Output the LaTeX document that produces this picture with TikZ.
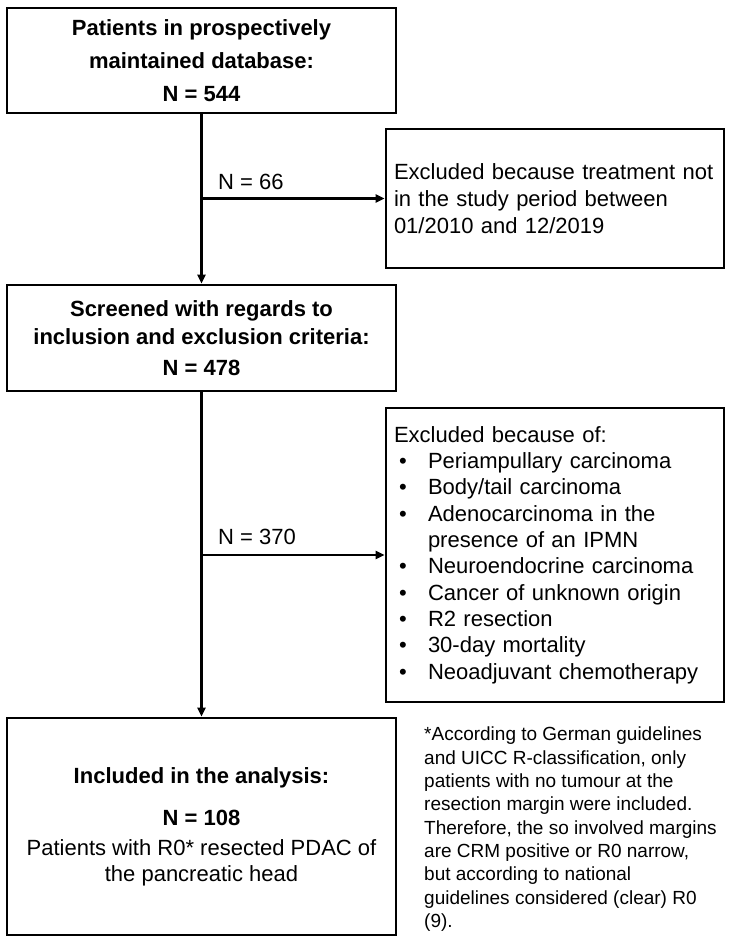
\documentclass[tikz,border=0pt]{standalone}
\usepackage{fontspec}
\setmainfont{Liberation Sans}
\usetikzlibrary{arrows.meta}
\newcommand{\mybul}{\makebox[34pt][l]{\hspace{5pt}•}}
\begin{document}
\begin{tikzpicture}[x=1pt,y=1pt,
  box/.style={draw=black, line width=2.6pt, inner sep=0pt},
  cbox/.style={box, minimum width=389pt, align=center, font=\fontsize{22}{27}\selectfont},
  lbox/.style={box, text width=322pt, inner xsep=8pt, inner ysep=0pt, align=left, font=\fontsize{22}{27}\selectfont},
  arr/.style={line width=2.2pt, -{Triangle[length=9pt,width=8pt]}},
  lbl/.style={font=\fontsize{22}{27}\selectfont, anchor=west, inner sep=0pt},
  note/.style={font=\fontsize{19}{23.3}\selectfont, align=left, anchor=north west, inner sep=0pt}
]
\useasboundingbox (0,0) rectangle (733,-944);

\node[cbox, minimum height=105pt, font=\fontsize{22}{27}\selectfont\bfseries] (b1) at (201.5,-60.5)
  {Patients in prospectively\\[6pt]maintained database:\\[6pt]N = 544};

\node[lbox, minimum height=139pt] (b2) at (555,-198.5)
  {Excluded because treatment not\\in the study period between\\01/2010 and 12/2019};

\node[cbox, minimum height=106pt, font=\fontsize{22}{27}\selectfont\bfseries] (b3) at (201.5,-338)
  {Screened with regards to\\[1pt]inclusion and exclusion criteria:\\[4pt]N = 478};

\node[lbox, minimum height=294pt, font=\fontsize{22}{26.3}\selectfont] (b4) at (555,-555)
  {Excluded because of:\\
   \mybul Periampullary carcinoma\\
   \mybul Body/tail carcinoma\\
   \mybul Adenocarcinoma in the\\
   \hspace*{34pt}presence of an IPMN\\
   \mybul Neuroendocrine carcinoma\\
   \mybul Cancer of unknown origin\\
   \mybul R2 resection\\
   \mybul 30-day mortality\\
   \mybul Neoadjuvant chemotherapy};

\node[cbox, minimum height=217pt] (b5) at (201.5,-826.5)
  {\textbf{Included in the analysis:}\\[15pt]\textbf{N = 108}\\[3pt]Patients with R0* resected PDAC of\\[-1pt]the pancreatic head};

\node[note] (fn) at (424,-727)
  {*According to German guidelines\\
   and UICC R-classification, only\\
   patients with no tumour at the\\
   resection margin were included.\\
   Therefore, the so involved margins\\
   are CRM positive or R0 narrow,\\
   but according to national\\
   guidelines considered (clear) R0\\
   (9).};

\coordinate (j1) at (b1.south |- b2.west);
\coordinate (j2) at (b3.south |- b4.west);

\draw[arr] (b1.south) -- (b3.north);
\draw[arr] (j1) -- (b2.west);
\draw[arr] (b3.south) -- (b5.north);
\draw[arr] (j2) -- (b4.west);

\node[lbl] (l1) at (218,-182) {N = 66};
\node[lbl] (l2) at (218,-537) {N = 370};
\end{tikzpicture}
\end{document}
